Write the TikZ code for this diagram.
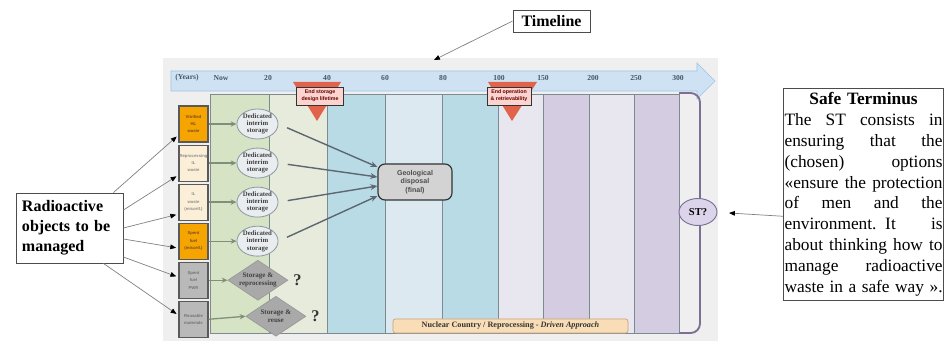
\documentclass[tikz,border=0pt]{standalone}
\usepackage{fontspec}
\setmainfont{Liberation Serif}
\setsansfont{Liberation Sans}
\usetikzlibrary{positioning, shapes.geometric, arrows.meta, calc}

\definecolor{panel}{HTML}{EFEFEF}
\definecolor{tlfill}{HTML}{CFE2F3}
\definecolor{tldraw}{HTML}{9DC3E6}
\definecolor{tltext}{HTML}{46556B}
\definecolor{colgreen}{HTML}{D6E3C5}
\definecolor{colsage}{HTML}{E7EBDC}
\definecolor{colblue}{HTML}{B8DBE6}
\definecolor{colpale}{HTML}{DCE9F1}
\definecolor{colmist}{HTML}{E8E6EE}
\definecolor{collilac}{HTML}{D4CCE0}
\definecolor{colline}{HTML}{7E8A92}
\definecolor{hlorange}{HTML}{F6A500}
\definecolor{ilcream}{HTML}{FCEFD8}
\definecolor{sfgrey}{HTML}{B9B9B9}
\definecolor{markred}{HTML}{E2634C}
\definecolor{markpink}{HTML}{FBD3CF}
\definecolor{interimfill}{HTML}{E9EDF0}
\definecolor{interimdraw}{HTML}{8C9AA2}
\definecolor{optfill}{HTML}{A9A9A9}
\definecolor{geofill}{HTML}{D3D3D3}
\definecolor{barfill}{HTML}{F9DDB7}
\definecolor{bardraw}{HTML}{C9A27A}
\definecolor{stpurple}{HTML}{7B6F93}
\definecolor{stfill}{HTML}{DCD4EA}
\definecolor{feedgreen}{HTML}{7E8F7B}
\definecolor{flowgrey}{HTML}{5D6771}

% one justified line of the callout text
\newcommand{\jline}[1]{\makebox[\linewidth][s]{\spaceskip=0.25em plus 20em\relax #1}}

\begin{document}
\begin{tikzpicture}[
  x=0.03cm, y=-0.03cm,
  wastebox/.style={
    draw=black!65,
    line width=0.9pt,
    minimum width=0.87cm,
    minimum height=1.08cm,
    inner sep=0pt,
    align=center,
    font=\sffamily\bfseries\fontsize{3.6}{6.3}\selectfont,
  },
  interim/.style={
    ellipse,
    draw=interimdraw,
    fill=interimfill,
    line width=0.7pt,
    minimum width=1.23cm,
    minimum height=0.9cm,
    inner sep=0pt,
    align=center,
    text=black!75,
    font=\bfseries\fontsize{5.8}{6.2}\selectfont,
  },
  option/.style={
    diamond,
    aspect=1.5,
    draw=black!40,
    fill=optfill,
    line width=0.6pt,
    minimum width=1.8cm,
    minimum height=1.2cm,
    inner sep=0pt,
    align=center,
    text=black!75,
    font=\bfseries\fontsize{6}{7}\selectfont,
  },
  query/.style={inner sep=0pt, text=black!80, font=\bfseries\fontsize{14}{14}\selectfont},
  repository/.style={
    draw=black!80,
    fill=geofill,
    line width=1pt,
    rounded corners=6pt,
    minimum width=2.22cm,
    minimum height=1.08cm,
    align=center,
    text=black!70,
    font=\sffamily\bfseries\fontsize{6}{7.5}\selectfont,
  },
  marker/.style={
    draw=black!80,
    fill=markpink,
    line width=0.7pt,
    inner sep=0pt,
    minimum height=0.54cm,
    align=center,
    text=red!40!black,
    font=\sffamily\bfseries\fontsize{4.5}{5.8}\selectfont,
  },
  tick/.style={inner sep=0pt, text=tltext, font=\bfseries\fontsize{6.5}{7}\selectfont},
  callout/.style={draw=black!70, line width=0.7pt, fill=white},
  feed/.style={draw=feedgreen, line width=1.1pt, -{Stealth[length=5pt, width=4.5pt]}},
  flow/.style={draw=flowgrey, line width=1.2pt, -{Stealth[length=6pt, width=5pt]}},
  pointer/.style={draw=black!50, line width=0.6pt,
    -{Triangle[length=5pt, width=4pt, color=black, fill=black]}},
]
\useasboundingbox (0,0) rectangle (945,345);

% --- backdrop and time axis ---
\fill[panel] (163,58) rectangle (718,341);
\filldraw[fill=tlfill, draw=tldraw, line width=0.5pt]
  (171,71) -- (697,71) -- (697,63) -- (715,81) -- (697,99) -- (697,91) -- (171,91) -- cycle;
\foreach \xpos/\lab in {187/(Years), 221/Now, 268/20, 327/40, 385/60, 443/80,
                        499/100, 543/150, 593/200, 636/250, 678/300}
  \node[tick] (yr\xpos) at (\xpos,78) {\lab};

% --- time bands ---
\foreach \xa/\xb/\tint in {210/269/colgreen, 269/327/colsage, 327/385/colblue,
                           385/442/colpale, 442/498/colblue, 498/543/colmist,
                           543/589/collilac, 589/634/colmist, 634/679/collilac}
  \filldraw[fill=\tint, draw=colline, line width=0.6pt] (\xa,94) rectangle (\xb,333);

% --- milestones ---
\fill[markred] (293,82) -- (341,82) -- (317,121) -- cycle;
\fill[markred] (488,82) -- (537,82) -- (512,121) -- cycle;
\node[marker, minimum width=1.41cm] (mstore) at (320,96) {End storage\\design lifetime};
\node[marker, minimum width=1.32cm] (mop) at (509,96) {End operation\\\& retrievability};

% --- safe terminus bracket ---
\draw[stpurple, line width=1.6pt, rounded corners=8pt] (679,93) -| (700,333) -- (679,333);
\node[ellipse, draw=stpurple, fill=stfill, line width=0.8pt, minimum width=1.14cm,
      minimum height=0.81cm, inner sep=0pt, font=\bfseries\fontsize{9}{9}\selectfont] (st) at (698,212) {ST?};

% --- waste categories ---
\node[wastebox, fill=hlorange, text=brown!60!black] (vhl) at (193.5,124) {Vitrified\\HL\\waste};
\node[wastebox, fill=ilcream, text=black!45, below=0.06cm of vhl] (rilw) {Reprocessing\\IL\\waste};
\node[wastebox, fill=ilcream, text=black!45, below=0.06cm of rilw] (ilw) {IL\\waste\\(miscell.)};
\node[wastebox, fill=hlorange, text=brown!60!black, below=0.06cm of ilw] (sfm) {Spent\\fuel\\(miscell.)};
\node[wastebox, fill=sfgrey, text=black!55, below=0.06cm of sfm] (sfp) {Spent\\fuel\\PWR};
\node[wastebox, fill=sfgrey, text=black!55, below=0.06cm of sfp] (rmat) {Reusable\\materials};

% --- management options ---
\node[interim, right=0.84cm of vhl] (dis1) {Dedicated\\interim\\storage};
\node[interim, right=0.84cm of rilw] (dis2) {Dedicated\\interim\\storage};
\node[interim, right=0.84cm of ilw] (dis3) {Dedicated\\interim\\storage};
\node[interim, right=0.84cm of sfm] (dis4) {Dedicated\\interim\\storage};
\node[option, right=0.57cm of sfp] (strep) {Storage \&\\reprocessing};
\node[option, right=1.11cm of rmat, yshift=0.09cm] (streu) {Storage \&\\reuse};
\node[query, right=0.15cm of strep] (qrep) {?};
\node[query, right=0.15cm of streu] (qreu) {?};
\node[repository] (geo) at (415,182) {Geological\\disposal\\(final)};

\draw[feed] (vhl) -- (dis1);
\draw[feed] (rilw) -- (dis2);
\draw[feed] (ilw) -- (dis3);
\draw[feed] (sfm) -- (dis4);
\draw[feed] (sfp) -- (strep);
\draw[feed] (rmat.east) -- (streu.west);

\draw[flow, shorten <=8pt] (dis1.east) -- ($(geo.west)+(0,-15)$);
\draw[flow, shorten <=8pt] (dis2.east) -- ($(geo.west)+(0,-5)$);
\draw[flow, shorten <=8pt] (dis3.east) -- ($(geo.west)+(0,4)$);
\draw[flow, shorten <=8pt] (dis4.east) -- ($(geo.west)+(0,14)$);

% --- approach banner ---
\node[draw=bardraw, fill=barfill, line width=0.6pt, rounded corners=2pt, minimum width=7.05cm,
      minimum height=0.42cm, inner sep=0pt, text=black!80,
      font=\bfseries\fontsize{7}{7}\selectfont] (approach) at (510.5,326)
  {Nuclear Country / Reprocessing - \textit{Driven Approach}};

% --- callouts ---
\node[callout, minimum width=2.31cm, minimum height=0.66cm,
      font=\bfseries\fontsize{13.6}{15}\selectfont] (timeline) at (551.5,21) {Timeline};
\coordinate (tltip) at (434,60);
\draw[pointer] (timeline.west) -- (tltip);

\node[callout, text width=2.85cm, inner xsep=0.18cm, minimum height=2.1cm, align=left,
      font=\bfseries\fontsize{13.7}{17}\selectfont] (objects) at (69.5,228)
  {Radioactive\\objects to be\\managed};
\draw[pointer, shorten >=2pt] ($(objects.north east)+(-10,0)$) -- ($(vhl.west)+(0,11)$);
\draw[pointer, shorten >=2pt] ($(objects.east)+(0,-18)$) -- ($(rilw.west)+(0,12)$);
\draw[pointer, shorten >=2pt] (objects.east) -- ($(ilw.west)+(0,12)$);
\draw[pointer, shorten >=2pt] ($(objects.east)+(0,11)$) -- ($(sfm.west)+(0,7)$);
\draw[pointer, shorten >=2pt] ($(objects.east)+(0,29)$) -- ($(sfp.west)+(0,-3)$);
\draw[pointer, shorten >=2pt] ($(objects.south east)+(-20,0)$) -- ($(rmat.west)+(0,-4)$);

\node[callout, anchor=north west, text width=4.74cm, inner xsep=1pt, inner ysep=3pt,
      align=center, font=\fontsize{14.8}{17.9}\selectfont] (safe) at (783,88) {%
  \textbf{Safe Terminus}\\
  \jline{The ST consists in}\\
  \jline{ensuring that the}\\
  \jline{(chosen) options}\\
  \jline{«ensure the protection}\\
  \jline{of men and the}\\
  \jline{environment. It is}\\
  \jline{about thinking how to}\\
  \jline{manage radioactive}\\
  \jline{waste in a safe way ».}};
\coordinate (sttip) at (729,213);
\draw[pointer] ($(safe.west)+(0,22)$) -- (sttip);
\end{tikzpicture}
\end{document}
